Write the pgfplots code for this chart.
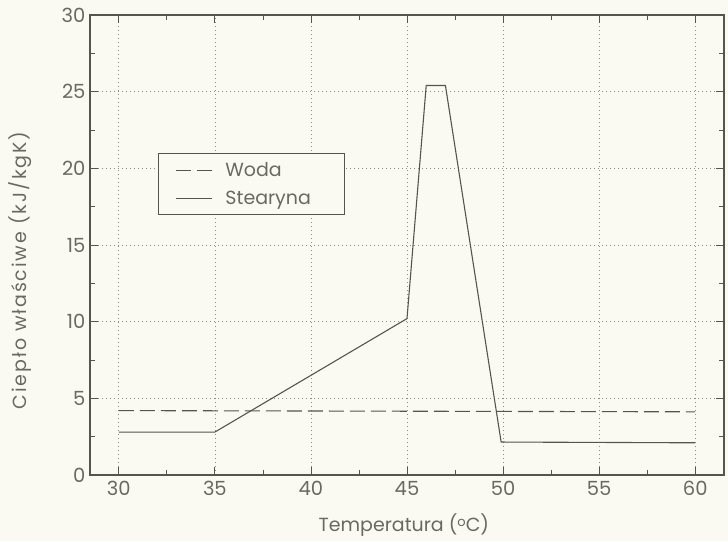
\documentclass[border=0pt]{standalone}
\usepackage{fontspec}
\setmainfont{Poppins}
\newfontfamily\ylabfont[LetterSpace=10]{Poppins}
\usepackage{pgfplots}
\pgfplotsset{compat=1.18}
\definecolor{paper}{RGB}{251,250,242}
\definecolor{ink}{RGB}{85,85,78}
\definecolor{txt}{RGB}{105,105,100}
\definecolor{gridc}{RGB}{140,140,132}

\begin{document}
\begin{tikzpicture}
\useasboundingbox (-90pt,-66pt) rectangle (638pt,475pt);
\fill[paper] (-90pt,-66pt) rectangle (638pt,475pt);
\begin{axis}[
    scale only axis,
    width=634pt, height=460pt,
    xmin=28.5, xmax=61.5,
    ymin=0, ymax=30,
    xtick={30,35,...,60},
    ytick={0,5,...,30},
    minor x tick num=1,
    minor y tick num=1,
    tick align=inside,
    major tick length=8pt,
    minor tick length=5pt,
    every tick/.style={ink, line width=0.8pt},
    axis line style={ink, line width=1.3pt},
    grid=major,
    major grid style={gridc, line width=0.7pt, dash pattern=on 1pt off 3pt},
    /pgf/number format/assume math mode=true,
    ticklabel style={font=\fontsize{19.5}{21}\selectfont, text=txt},
    yticklabel style={xshift=-1pt},
    xticklabel style={yshift=-3pt},
    xlabel={Temperatura (\raisebox{0.45ex}{\fontsize{13}{14}\selectfont o}C)},
    ylabel={\ylabfont Ciepło właściwe (kJ/kgK)},
    label style={font=\fontsize{19}{21}\selectfont, text=txt},
    xlabel style={at={(axis description cs:0.495,-0.109)}, anchor=center},
    ylabel style={at={(axis description cs:-0.110,0.445)}, anchor=center},
    legend style={at={(0.107,0.70)}, anchor=north west,
        draw=ink, line width=1pt, fill=paper,
        font=\fontsize{19}{21}\selectfont, text=txt,
        inner xsep=17pt, inner ysep=7pt,
        row sep=9pt},
    legend cell align=left,
    legend image code/.code={\draw[#1] (0pt,0pt) -- (36pt,0pt);},
]
\addplot[ink, line width=1.1pt, dash pattern=on 15pt off 6pt] coordinates {
    (30,4.20) (60,4.12)
};
\addlegendentry{\hspace{11pt}\makebox[100pt][l]{Woda}}
\addplot[ink, line width=1.1pt] coordinates {
    (30,2.8) (35,2.8) (45,10.2) (46.0,25.4) (47.0,25.4) (49.9,2.15) (60,2.1)
};
\addlegendentry{\hspace{11pt}\makebox[100pt][l]{Stearyna}}
\end{axis}
\end{tikzpicture}
\end{document}
